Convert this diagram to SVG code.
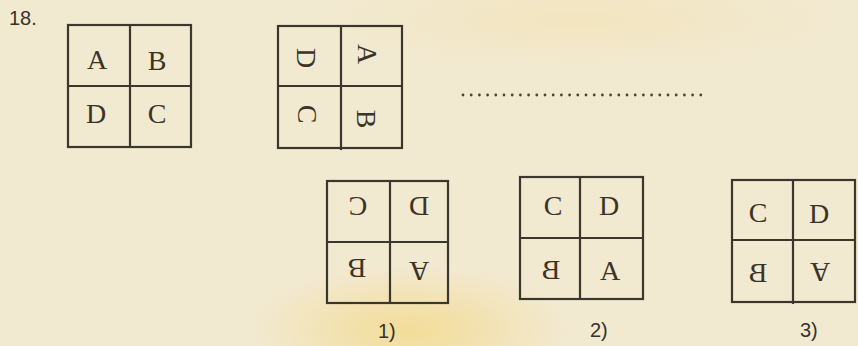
<svg xmlns="http://www.w3.org/2000/svg" width="858" height="346" viewBox="0 0 858 346">
  <defs>
    <radialGradient id="yel1" cx="0.5" cy="0.5" r="0.5">
      <stop offset="0" stop-color="#f3d77e" stop-opacity="0.7"/>
      <stop offset="1" stop-color="#f3d77e" stop-opacity="0"/>
    </radialGradient>
    <radialGradient id="yel2" cx="0.5" cy="0.5" r="0.5">
      <stop offset="0" stop-color="#f2dc95" stop-opacity="0.3"/>
      <stop offset="1" stop-color="#f2dc95" stop-opacity="0"/>
    </radialGradient>
    <style>
      .grid { fill: none; stroke: #3b372d; stroke-width: 2.2; }
      .ltr { font-family: "Liberation Serif", "Times New Roman", serif; font-size: 28px; fill: #3a3428; text-anchor: middle; }
      .num { font-family: "Liberation Sans", Arial, sans-serif; font-size: 20px; fill: #37322a; }
      .dots { stroke: #4a4536; stroke-width: 2.8; stroke-linecap: round; stroke-dasharray: 0 8.2; fill: none; }
    </style>
  </defs>

  <!-- paper background -->
  <rect x="0" y="0" width="858" height="346" fill="#f2e9d1"/>
  <ellipse cx="410" cy="330" rx="160" ry="65" fill="url(#yel1)"/>
  <ellipse cx="580" cy="20" rx="260" ry="45" fill="url(#yel2)"/>

  <text class="num" x="9" y="25">18.</text>

  <!-- question figure -->
  <g id="fig-original">
    <rect class="grid" x="68" y="25" width="123" height="122"/>
    <line class="grid" x1="130" y1="25" x2="130" y2="147"/>
    <line class="grid" x1="68" y1="86" x2="191" y2="86"/>
    <text class="ltr" x="97" y="69">A</text>
    <text class="ltr" x="157" y="70">B</text>
    <text class="ltr" x="96" y="123">D</text>
    <text class="ltr" x="157" y="123">C</text>
  </g>

  <g id="fig-rotated">
    <rect class="grid" x="278" y="26" width="124" height="122"/>
    <line class="grid" x1="341" y1="26" x2="341" y2="150"/>
    <line class="grid" x1="278" y1="86" x2="402" y2="86"/>
    <text class="ltr" x="306" y="67" transform="rotate(90 306 58)">D</text>
    <text class="ltr" x="367" y="63" transform="rotate(90 367 54)">A</text>
    <text class="ltr" x="307" y="123" transform="rotate(90 307 114)">C</text>
    <text class="ltr" x="366" y="128" transform="rotate(90 366 119)">B</text>
  </g>

  <!-- answer blank -->
  <g id="blank">
    <line class="dots" x1="463" y1="95" x2="708" y2="95"/>
  </g>

  <!-- option 1 -->
  <g id="option-1">
    <rect class="grid" x="327" y="181" width="121" height="122"/>
    <line class="grid" x1="390" y1="181" x2="390" y2="303"/>
    <line class="grid" x1="327" y1="242" x2="448" y2="242"/>
    <text class="ltr" x="358" y="215" transform="rotate(180 358 206)">C</text>
    <text class="ltr" x="419" y="215" transform="rotate(180 419 206)">D</text>
    <text class="ltr" x="357" y="277" transform="rotate(180 357 268)">B</text>
    <text class="ltr" x="419" y="280" transform="rotate(180 419 271)">A</text>
    <text class="num" x="378" y="338">1)</text>
  </g>

  <!-- option 2 -->
  <g id="option-2">
    <rect class="grid" x="520" y="177" width="123" height="122"/>
    <line class="grid" x1="580" y1="177" x2="580" y2="299"/>
    <line class="grid" x1="520" y1="238" x2="643" y2="238"/>
    <text class="ltr" x="553" y="215">C</text>
    <text class="ltr" x="609" y="215">D</text>
    <text class="ltr" x="551" y="279" transform="translate(1102 0) scale(-1 1)">B</text>
    <text class="ltr" x="610" y="280">A</text>
    <text class="num" x="590" y="337">2)</text>
  </g>

  <!-- option 3 -->
  <g id="option-3">
    <rect class="grid" x="732" y="180" width="123" height="122"/>
    <line class="grid" x1="793" y1="180" x2="793" y2="304"/>
    <line class="grid" x1="732" y1="240" x2="855" y2="240"/>
    <text class="ltr" x="758" y="222">C</text>
    <text class="ltr" x="819" y="223">D</text>
    <text class="ltr" x="758" y="282" transform="translate(1516 0) scale(-1 1)">B</text>
    <text class="ltr" x="820" y="281" transform="rotate(180 820 272)">A</text>
    <text class="num" x="800" y="337">3)</text>
  </g>
</svg>
